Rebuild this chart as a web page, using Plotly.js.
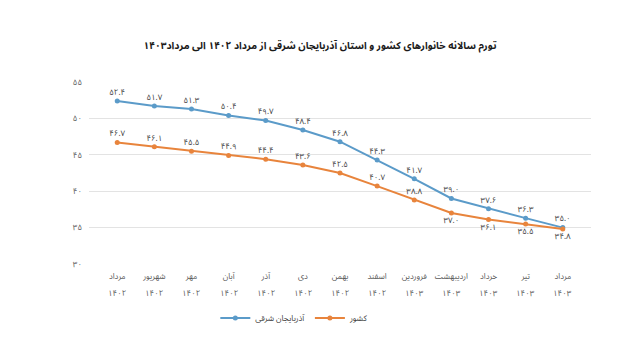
<!DOCTYPE html>
<html>
<head>
<meta charset="utf-8">
<script src="https://cdn.plot.ly/plotly-3.0.1.min.js"></script>
<style>html,body{margin:0;padding:0;background:#fff;}#chart{width:640px;height:360px;}</style>
</head>
<body>
<div id="chart"></div>
<script>
const months = ["مرداد","شهریور","مهر","آبان","آذر","دی","بهمن","اسفند","فروردین","اردیبهشت","خرداد","تیر","مرداد"];
const years = ["۱۴۰۲","۱۴۰۲","۱۴۰۲","۱۴۰۲","۱۴۰۲","۱۴۰۲","۱۴۰۲","۱۴۰۲","۱۴۰۳","۱۴۰۳","۱۴۰۳","۱۴۰۳","۱۴۰۳"];
const azarbaijan = [52.4, 51.7, 51.3, 50.4, 49.7, 48.4, 46.8, 44.3, 41.7, 39.0, 37.6, 36.3, 35.0];
const country = [46.7, 46.1, 45.5, 44.9, 44.4, 43.6, 42.5, 40.7, 38.8, 37.0, 36.1, 35.5, 34.8];
const countryLabelPos = ["top center","top center","top center","top center","top center","top center","top center","top center","top center","bottom center","bottom center","bottom center","bottom center"];
const yTicks = [30, 35, 40, 45, 50, 55];

const fa = s => String(s).replace(/[0-9]/g, d => "۰۱۲۳۴۵۶۷۸۹"[+d]);
const cats = months.map((m, i) => m + " " + years[i]);
const FONT = "Noto Sans Arabic, Noto Naskh Arabic, DejaVu Sans, sans-serif";

const traces = [
  {
    x: cats, y: azarbaijan, name: "آذربایجان شرقی",
    mode: "lines+markers+text", type: "scatter",
    line: {color: "#5b9bc9", width: 2},
    marker: {color: "#5b9bc9", size: 5},
    text: azarbaijan.map(v => fa(v.toFixed(1))),
    textposition: "top center",
    textfont: {family: FONT, size: 8, color: "#404040"},
    cliponaxis: false
  },
  {
    x: cats, y: country, name: "کشور",
    mode: "lines+markers+text", type: "scatter",
    line: {color: "#e8843c", width: 2},
    marker: {color: "#e8843c", size: 5},
    text: country.map(v => fa(v.toFixed(1))),
    textposition: countryLabelPos,
    textfont: {family: FONT, size: 8, color: "#404040"},
    cliponaxis: false
  }
];

const yearAnnotations = years.map((yr, i) => ({
  x: cats[i], xref: "x", y: 0, yref: "paper",
  yanchor: "top", yshift: -19, showarrow: false,
  text: yr, font: {family: FONT, size: 8, color: "#595959"}
}));

const layout = {
  width: 640, height: 360,
  margin: {l: 89, r: 49, t: 82, b: 96},
  paper_bgcolor: "#ffffff", plot_bgcolor: "#ffffff",
  font: {family: FONT, color: "#595959"},
  title: {
    text: "<b>تورم سالانه خانوارهای کشور و استان آذربایجان شرقی از مرداد ۱۴۰۲ الی مرداد۱۴۰۳</b>",
    font: {family: FONT, size: 10, color: "#1a1a1a"},
    x: 0.5, xanchor: "center", y: 0.875, yanchor: "middle"
  },
  xaxis: {
    type: "category",
    tickmode: "array", tickvals: cats, ticktext: months,
    showgrid: false, zeroline: false, showline: false,
    tickfont: {family: FONT, size: 8, color: "#595959"},
    ticks: "", ticklen: 0, ticklabelstandoff: 6
  },
  yaxis: {
    range: [30, 55],
    tickvals: yTicks, ticktext: yTicks.map(fa),
    showgrid: true, gridcolor: "#e3e3e3", gridwidth: 1,
    zeroline: false, showline: false,
    tickfont: {family: FONT, size: 8, color: "#595959"},
    ticks: "", ticklen: 0, ticklabelstandoff: 6
  },
  annotations: yearAnnotations,
  showlegend: true,
  legend: {
    orientation: "h", x: 0.41, xanchor: "center", y: -0.297, yanchor: "middle",
    font: {family: FONT, size: 8, color: "#404040"},
    itemwidth: 30, bgcolor: "rgba(0,0,0,0)"
  }
};

Plotly.newPlot("chart", traces, layout, {displayModeBar: false, staticPlot: true});
</script>
</body>
</html>
